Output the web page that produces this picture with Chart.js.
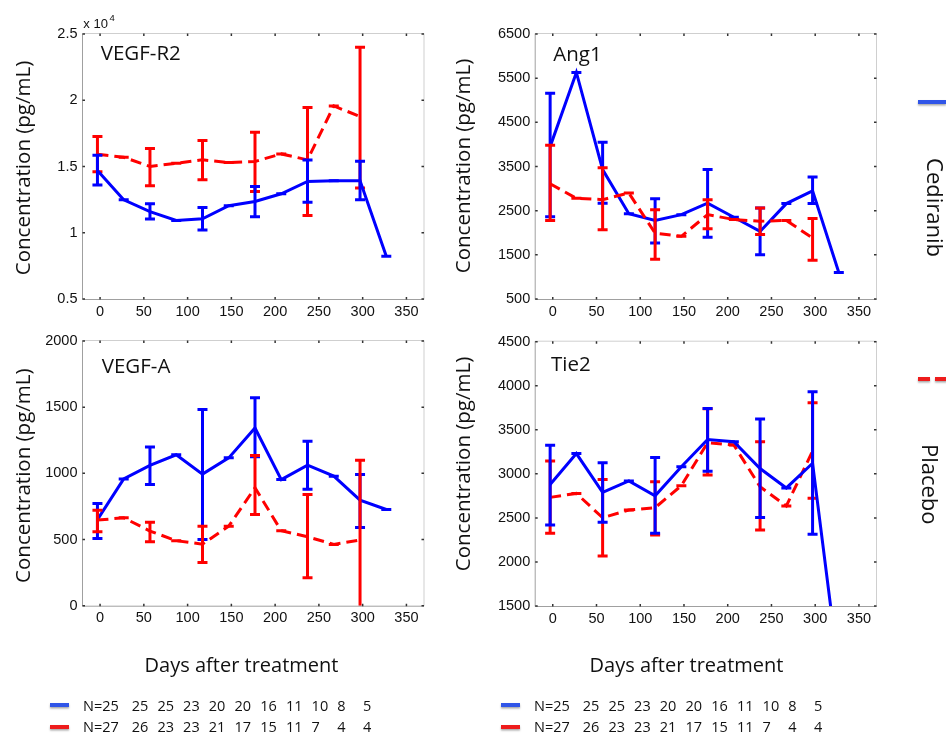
<!DOCTYPE html>
<html>
<head>
<meta charset="utf-8">
<script src="https://cdn.jsdelivr.net/npm/chart.js@4.4.0/dist/chart.umd.min.js"></script>
<style>
  html, body { margin: 0; padding: 0; background: #fff; }
  #page { position: relative; width: 946px; height: 734px; overflow: hidden; }
  canvas { position: absolute; }
</style>
</head>
<body>
<div id="page">
  <canvas id="deco" width="946" height="734" style="left:0;top:0"></canvas>
  <canvas id="p1" width="440" height="320" style="left:0;top:0"></canvas>
  <canvas id="p2" width="440" height="320" style="left:440px;top:0"></canvas>
  <canvas id="p3" width="440" height="320" style="left:0;top:320px"></canvas>
  <canvas id="p4" width="440" height="320" style="left:440px;top:320px"></canvas>
</div>
<script>
// days after treatment for each visit
const days = [-3, 27, 57, 87, 117, 147, 177, 207, 237, 267, 297, 327];
const xTicks = [0, 50, 100, 150, 200, 250, 300, 350];

// VEGF-R2 (pg/mL)
const r2Ced   = [14700, 12490, 11600, 10930, 11050, 12040, 12360, 12940, 13870, 13920, 13920, 8220];
const r2CedLo = [13600, 12490, 11030, 10930, 10200, 12040, 11200, 12940, 12300, 13920, 12500, 8220];
const r2CedHi = [15850, 12490, 12190, 10930, 11900, 12040, 13500, 12940, 15500, 13920, 15400, 8220];
const r2Pla   = [15930, 15700, 15000, 15250, 15500, 15300, 15380, 15950, 15500, 19570, 18770];
const r2PlaLo = [14600, 15700, 13540, 15250, 14000, 15300, 13110, 15950, 11300, 19570, 13370];
const r2PlaHi = [17260, 15700, 16360, 15250, 16960, 15300, 17590, 15950, 19450, 19570, 24000];
const r2Ticks = [5000, 10000, 15000, 20000, 25000];

// Ang1
const angCed   = [3950, 5630, 3430, 2430, 2280, 2410, 2670, 2350, 2030, 2660, 2950, 1100];
const angCedLo = [2360, 5630, 2670, 2430, 1770, 2410, 1900, 2350, 1500, 2660, 2660, 1100];
const angCedHi = [5160, 5630, 4050, 2430, 2770, 2410, 3430, 2350, 2560, 2660, 3260, 1100];
const angPla   = [3110, 2780, 2750, 2900, 1990, 1920, 2410, 2300, 2260, 2280, 1880];
const angPlaLo = [2280, 2780, 2070, 2900, 1400, 1920, 2090, 2300, 1960, 2280, 1380];
const angPlaHi = [3980, 2780, 3470, 2900, 2520, 1920, 2750, 2300, 2560, 2280, 2320];
const angTicks = [500, 1500, 2500, 3500, 4500, 5500, 6500];

// VEGF-A
const vaCed   = [650, 958, 1060, 1140, 994, 1117, 1343, 953, 1062, 979, 797, 727];
const vaCedLo = [508, 958, 916, 1140, 501, 1117, 1125, 953, 880, 979, 591, 727];
const vaCedHi = [772, 958, 1200, 1140, 1482, 1117, 1572, 953, 1243, 979, 991, 727];
const vaPla   = [647, 664, 564, 491, 465, 601, 891, 566, 521, 463, 496];
const vaPlaLo = [558, 664, 483, 491, 327, 601, 689, 566, 211, 463, -150];
const vaPlaHi = [722, 664, 631, 491, 601, 601, 1135, 566, 840, 463, 1099];
const vaTicks = [0, 500, 1000, 1500, 2000];

// Tie2
const tieCed   = [2880, 3230, 2790, 2920, 2750, 3080, 3390, 3365, 3060, 2840, 3120, 760];
const tieCedLo = [2420, 3230, 2450, 2920, 2325, 3080, 3030, 3365, 2505, 2840, 2315, 760];
const tieCedHi = [3325, 3230, 3127, 2920, 3187, 3080, 3743, 3365, 3622, 2840, 3933, 760];
const tiePla   = [2733, 2778, 2502, 2590, 2616, 2866, 3354, 3327, 2854, 2635, 3259];
const tiePlaLo = [2325, 2778, 2067, 2590, 2306, 2866, 2987, 3327, 2363, 2635, 2722];
const tiePlaHi = [3146, 2778, 2937, 2590, 2911, 2866, 3740, 3327, 3365, 2635, 3808];
const tieTicks = [1500, 2000, 2500, 3000, 3500, 4000, 4500];

// patients per visit
const nCed = [25, 25, 25, 23, 20, 20, 16, 11, 10, 8, 5];
const nPla = [27, 26, 23, 23, 21, 17, 15, 11, 7, 4, 4];

const BLUE = '#0000ff';
const RED = '#ff0000';
const TICKFONT = {family: '"Liberation Sans", Arial, sans-serif', size: 14.5};
const TEXT = '"Open Sans", sans-serif';

function pts(vals) {
  return vals.map((v, i) => ({x: days[i], y: v}));
}

// vertical error bars with caps, drawn right after their own line
const errorBars = {
  id: 'errorBars',
  afterDatasetDraw(chart, args) {
    const ds = chart.data.datasets[args.index];
    if (!ds.lo) return;
    const {ctx, chartArea: a, scales: {x, y}} = chart;
    ctx.save();
    ctx.beginPath();
    ctx.rect(a.left, a.top, a.right - a.left, a.bottom - a.top);
    ctx.clip();
    ctx.strokeStyle = ds.borderColor;
    ctx.lineWidth = 3;
    ctx.setLineDash([]);
    ds.data.forEach((pt, i) => {
      const px = x.getPixelForValue(pt.x);
      const y1 = y.getPixelForValue(ds.lo[i]);
      const y2 = y.getPixelForValue(ds.hi[i]);
      ctx.beginPath();
      if (y1 - y2 > 0.5) {
        ctx.moveTo(px, y1);
        ctx.lineTo(px, y2);
      }
      ctx.moveTo(px - 5, y1); ctx.lineTo(px + 5, y1);
      ctx.moveTo(px - 5, y2); ctx.lineTo(px + 5, y2);
      ctx.stroke();
    });
    ctx.restore();
  }
};

// box frame, inside tick marks, panel title, y title
const panelDeco = {
  id: 'panelDeco',
  afterDraw(chart, args, o) {
    const {ctx, chartArea: a, scales: {x, y}} = chart;
    const l = a.left - 0.5, r = a.right + 0.5, t = a.top - 0.5, b = a.bottom + 0.5;
    ctx.save();
    ctx.lineWidth = 1;
    ctx.strokeStyle = '#cfcfcf';
    ctx.beginPath();
    ctx.moveTo(l, t); ctx.lineTo(r, t); ctx.lineTo(r, b);
    ctx.stroke();
    ctx.strokeStyle = '#a0a0a0';
    ctx.beginPath();
    ctx.moveTo(l, t); ctx.lineTo(l, b); ctx.lineTo(r, b);
    ctx.stroke();

    ctx.strokeStyle = '#333';
    ctx.lineWidth = 1.5;
    ctx.beginPath();
    x.ticks.forEach(tk => {
      const px = x.getPixelForValue(tk.value);
      ctx.moveTo(px, t); ctx.lineTo(px, t + 2.5);
      ctx.moveTo(px, b); ctx.lineTo(px, b - 2.5);
    });
    y.ticks.forEach(tk => {
      const py = y.getPixelForValue(tk.value);
      ctx.moveTo(l, py); ctx.lineTo(l + 2.5, py);
      ctx.moveTo(r, py); ctx.lineTo(r - 2.5, py);
    });
    ctx.stroke();

    ctx.fillStyle = '#111';
    ctx.textAlign = 'left';
    ctx.textBaseline = 'alphabetic';
    ctx.font = '20.5px ' + TEXT;
    ctx.fillText(o.title, o.titleX, o.titleY);

    if (o.exponent) {
      ctx.font = '13px "Liberation Sans", Arial, sans-serif';
      ctx.fillText('x 10', 83.3, 28.3);
      ctx.font = '9.5px "Liberation Sans", Arial, sans-serif';
      ctx.fillText('4', 109.5, 20.7);
    }

    ctx.translate(30, o.yTitleY);
    ctx.rotate(-Math.PI / 2);
    ctx.textAlign = 'center';
    ctx.font = '20.5px ' + TEXT;
    ctx.fillText('Concentration (pg/mL)', 0, 0);
    ctx.restore();
  }
};

function makePanel(id, p) {
  return new Chart(document.getElementById(id), {
    type: 'line',
    data: {
      datasets: [
        {label: 'Cediranib', data: pts(p.ced), lo: p.cedLo, hi: p.cedHi,
         borderColor: BLUE, borderWidth: 3, pointRadius: 0, tension: 0, clip: 0,
         order: p.redTop ? 1 : 0},
        {label: 'Placebo', data: pts(p.pla), lo: p.plaLo, hi: p.plaHi,
         borderColor: RED, borderWidth: 3, borderDash: [11, 6], pointRadius: 0, tension: 0, clip: 0,
         order: p.redTop ? 0 : 1}
      ]
    },
    options: {
      responsive: false,
      animation: false,
      devicePixelRatio: 1,
      layout: {padding: {left: 0, top: p.top, right: p.right, bottom: 0}},
      plugins: {
        legend: {display: false},
        tooltip: {enabled: false},
        panelDeco: {title: p.title, titleX: p.titleX, titleY: p.titleY, yTitleY: p.yTitleY, exponent: !!p.exponent}
      },
      scales: {
        x: {
          type: 'linear', min: -19.5, max: 369.5,
          afterBuildTicks: s => { s.ticks = xTicks.map(v => ({value: v})); },
          afterFit: s => { s.height = p.xh; },
          grid: {display: false, drawTicks: false},
          border: {display: false},
          ticks: {font: TICKFONT, color: '#111', padding: 4, maxRotation: 0, autoSkip: false}
        },
        y: {
          type: 'linear', min: p.yTicks[0], max: p.yTicks[p.yTicks.length - 1],
          afterBuildTicks: s => { s.ticks = p.yTicks.map(v => ({value: v})); },
          afterFit: s => { s.width = p.yw; },
          grid: {display: false, drawTicks: false},
          border: {display: false},
          ticks: {font: TICKFONT, color: '#111', padding: 5.5, autoSkip: false,
                  callback: p.fmt || (v => String(v))}
        }
      }
    },
    plugins: [errorBars, panelDeco]
  });
}

makePanel('p1', {
  ced: r2Ced, cedLo: r2CedLo, cedHi: r2CedHi, pla: r2Pla, plaLo: r2PlaLo, plaHi: r2PlaHi,
  yTicks: r2Ticks, fmt: v => String(v / 10000), exponent: true,
  top: 34, right: 16.5, yw: 83, xh: 21,
  title: 'VEGF-R2', titleX: 100.7, titleY: 60, yTitleY: 168
});
makePanel('p2', {
  ced: angCed, cedLo: angCedLo, cedHi: angCedHi, pla: angPla, plaLo: angPlaLo, plaHi: angPlaHi,
  yTicks: angTicks, redTop: true,
  top: 34, right: 4, yw: 95.7, xh: 21,
  title: 'Ang1', titleX: 113.3, titleY: 60.7, yTitleY: 166
});
makePanel('p3', {
  ced: vaCed, cedLo: vaCedLo, cedHi: vaCedHi, pla: vaPla, plaLo: vaPlaLo, plaHi: vaPlaHi,
  yTicks: vaTicks, redTop: true,
  top: 21, right: 16.5, yw: 83, xh: 34.3,
  title: 'VEGF-A', titleX: 101.7, titleY: 52.7, yTitleY: 155.7
});
makePanel('p4', {
  ced: tieCed, cedLo: tieCedLo, cedHi: tieCedHi, pla: tiePla, plaLo: tiePlaLo, plaHi: tiePlaHi,
  yTicks: tieTicks,
  top: 21.7, right: 4, yw: 95.7, xh: 34,
  title: 'Tie2', titleX: 111, titleY: 50.7, yTitleY: 144
});

// shared x titles, N= rows and the side legend
const d = document.getElementById('deco').getContext('2d');
d.fillStyle = '#111';
d.font = '20px ' + TEXT;
d.textAlign = 'center';
d.fillText('Days after treatment', 241.5, 672);
d.fillText('Days after treatment', 686.5, 672);

function mark(ctx, color, x, y, w, h) {
  ctx.save();
  ctx.shadowColor = 'rgba(0,0,0,0.35)';
  ctx.shadowBlur = 2;
  ctx.shadowOffsetY = 1.5;
  ctx.fillStyle = color;
  ctx.fillRect(x, y, w, h);
  ctx.restore();
}

[0, 451].forEach(gx => {
  mark(d, '#3055e8', 50 + gx, 703, 19, 4);
  mark(d, '#ee1c1c', 50 + gx, 725, 19, 4);
  d.fillStyle = '#111';
  d.textAlign = 'left';
  d.font = '14.5px ' + TEXT;
  [[nCed, 710.7], [nPla, 732.3]].forEach(([row, base]) => {
    d.fillText('N=' + row[0], 83 + gx, base);
    for (let k = 1; k < row.length; k++) {
      d.fillText(String(row[k]), 131.7 + (k - 1) * 25.7 + gx, base);
    }
  });
});

mark(d, '#3055e8', 918, 100, 28, 4);
mark(d, '#ee1c1c', 918, 377, 12, 4);
mark(d, '#ee1c1c', 935, 377, 12, 4);

d.fillStyle = '#111';
d.font = '22px ' + TEXT;
d.textAlign = 'center';
d.save();
d.translate(927, 207.5);
d.rotate(Math.PI / 2);
d.fillText('Cediranib', 0, 0);
d.restore();
d.save();
d.translate(921.5, 484.2);
d.rotate(Math.PI / 2);
d.fillText('Placebo', 0, 0);
d.restore();
</script>
</body>
</html>
